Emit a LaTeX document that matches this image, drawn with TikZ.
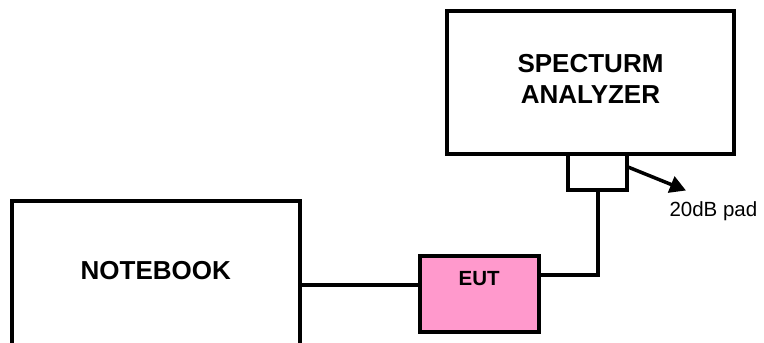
\documentclass[tikz,border=0pt]{standalone}
\usepackage{fontspec}
\setmainfont{Liberation Sans}
\usetikzlibrary{arrows.meta,calc}
\definecolor{eutpink}{RGB}{255,153,204}
\begin{document}
\begin{tikzpicture}[x=1pt,y=-1pt,
  box/.style={draw, line width=4pt, rectangle, inner sep=0pt},
  wire/.style={line width=4pt},
  bigtxt/.style={font=\fontsize{26}{31}\selectfont\bfseries, align=center, inner sep=0pt},
  smalltxt/.style={font=\fontsize{20.5}{24}\selectfont\bfseries, inner sep=0pt},
  plaintxt/.style={font=\fontsize{20.5}{24}\selectfont, inner sep=0pt}]
\useasboundingbox (0,0) rectangle (764,343);
\clip (0,0) rectangle (764,343);
% Spectrum analyzer
\node[box, minimum width=287pt, minimum height=143pt] (sa) at (590.5,82.6) {};
\node[bigtxt] (satext) at (590.5,79) {SPECTURM\\ANALYZER};
% 20 dB pad
\node[box, minimum width=59pt, minimum height=36pt] (pad) at (597.5,172) {};
\coordinate (padout) at (628,167);
\coordinate (padtip) at (686,190.5);
\draw[line width=3.5pt, -{Triangle[length=16pt,width=17pt]}] (padout) -- (padtip);
\node[plaintxt, anchor=base west] (padtext) at (669.3,216) {20dB pad};
% Notebook
\node[box, minimum width=287.7pt, minimum height=240pt] (nb) at (155.85,321.3) {};
\node[bigtxt] (nbtext) at (155.8,270.5) {NOTEBOOK};
% EUT
\node[box, fill=eutpink, minimum width=119.5pt, minimum height=76.5pt] (eut) at (479.25,293.75) {};
\node[smalltxt] (euttext) at (479.2,278.8) {EUT};
% wires
\coordinate (j1) at (598.5,275.3);
\coordinate (j2) at (0,284.5);
\draw[wire] (eut.east |- j1) -| (pad.south);
\draw[wire] (nb.east |- j2) -- (eut.west |- j2);
\end{tikzpicture}
\end{document}
